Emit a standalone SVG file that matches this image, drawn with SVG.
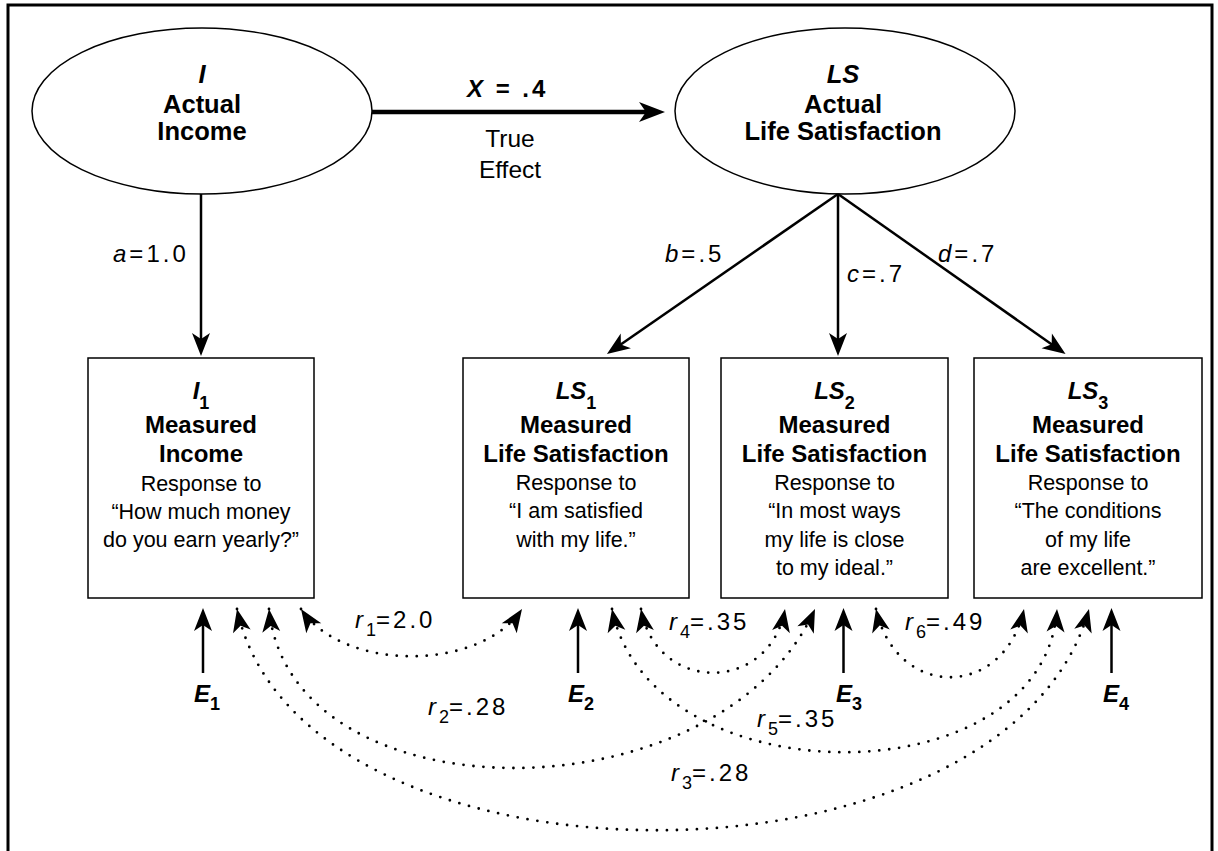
<svg xmlns="http://www.w3.org/2000/svg" width="1218" height="851" viewBox="0 0 1218 851">
  <style>
    .frame { fill: none; stroke: #000; stroke-width: 3; }
    .latent { fill: #fff; stroke: #000; stroke-width: 1.5; }
    .box { fill: #fff; stroke: #000; stroke-width: 1.5; }
    .path { fill: none; stroke: #000; stroke-width: 2.5; }
    .thick { fill: none; stroke: #000; stroke-width: 4.5; }
    .cov { fill: none; stroke: #000; stroke-width: 2.8; stroke-linecap: round; stroke-dasharray: 0 10; }
    text { font-family: "Liberation Sans", Arial, Helvetica, sans-serif; fill: #000; }
    .big { font-size: 25.5px; font-weight: bold; }
    .hd { font-size: 24px; font-weight: bold; }
    .tt { font-size: 24px; font-weight: bold; }
    .bd { font-size: 21.5px; }
    .lb { font-size: 24px; letter-spacing: 3px; }
    .lab { font-size: 24.5px; }
    .it { font-style: italic; }
    .sub { font-size: 18px; letter-spacing: 0; }
  </style>
  <defs>
    <marker id="head" viewBox="-26 -11 28 22" markerWidth="28" markerHeight="22" refX="-8" refY="0" orient="auto-start-reverse" markerUnits="userSpaceOnUse" overflow="visible">
      <path d="M0,0 L-23,-9 L-17,0 L-23,9 Z" fill="#000"/>
    </marker>
    <marker id="headBig" viewBox="-28 -12 30 24" markerWidth="30" markerHeight="24" refX="-10" refY="0" orient="auto" markerUnits="userSpaceOnUse" overflow="visible">
      <path d="M0,0 L-26,-10 L-19,0 L-26,10 Z" fill="#000"/>
    </marker>
    <marker id="dhead" viewBox="-26 -11 28 22" markerWidth="28" markerHeight="22" refX="0" refY="0" orient="auto-start-reverse" markerUnits="userSpaceOnUse" overflow="visible">
      <path d="M0,0 L-23,-9 L-17,0 L-23,9 Z" fill="#000"/>
    </marker>
  </defs>

  <rect class="frame" x="8" y="5" width="1204" height="900"/>

  <!-- latent variables -->
  <g id="income">
    <ellipse class="latent" cx="202" cy="111" rx="170" ry="83"/>
    <text class="big it" x="202" y="83" text-anchor="middle">I</text>
    <text class="big" x="202" y="113" text-anchor="middle">Actual</text>
    <text class="big" x="202" y="140" text-anchor="middle">Income</text>
  </g>
  <g id="life-satisfaction">
    <ellipse class="latent" cx="845" cy="111" rx="170" ry="83"/>
    <text class="big it" x="843" y="83" text-anchor="middle">LS</text>
    <text class="big" x="843" y="113" text-anchor="middle">Actual</text>
    <text class="big" x="843" y="140" text-anchor="middle">Life Satisfaction</text>
  </g>

  <!-- measured indicators -->
  <g id="I1">
    <rect class="box" x="88" y="358" width="226" height="240"/>
    <text class="hd" x="201" y="399" text-anchor="middle"><tspan class="it">I</tspan><tspan class="sub" dy="10">1</tspan></text>
    <text class="tt" x="201" y="433" text-anchor="middle">Measured</text>
    <text class="tt" x="201" y="462" text-anchor="middle">Income</text>
    <text class="bd" x="201" y="491" text-anchor="middle">Response to</text>
    <text class="bd" x="201" y="519" text-anchor="middle">“How much money</text>
    <text class="bd" x="201" y="547" text-anchor="middle">do you earn yearly?”</text>
  </g>
  <g id="LS1">
    <rect class="box" x="463" y="358" width="226" height="240"/>
    <text class="hd" x="576" y="399" text-anchor="middle"><tspan class="it">LS</tspan><tspan class="sub" dy="10">1</tspan></text>
    <text class="tt" x="576" y="433" text-anchor="middle">Measured</text>
    <text class="tt" x="576" y="462" text-anchor="middle">Life Satisfaction</text>
    <text class="bd" x="576" y="490" text-anchor="middle">Response to</text>
    <text class="bd" x="576" y="518" text-anchor="middle">“I am satisfied</text>
    <text class="bd" x="576" y="547" text-anchor="middle">with my life.”</text>
  </g>
  <g id="LS2">
    <rect class="box" x="721" y="358" width="227" height="240"/>
    <text class="hd" x="834.5" y="399" text-anchor="middle"><tspan class="it">LS</tspan><tspan class="sub" dy="10">2</tspan></text>
    <text class="tt" x="834.5" y="433" text-anchor="middle">Measured</text>
    <text class="tt" x="834.5" y="462" text-anchor="middle">Life Satisfaction</text>
    <text class="bd" x="834.5" y="490" text-anchor="middle">Response to</text>
    <text class="bd" x="834.5" y="518" text-anchor="middle">“In most ways</text>
    <text class="bd" x="834.5" y="547" text-anchor="middle">my life is close</text>
    <text class="bd" x="834.5" y="575" text-anchor="middle">to my ideal.”</text>
  </g>
  <g id="LS3">
    <rect class="box" x="974" y="358" width="228" height="240"/>
    <text class="hd" x="1088" y="399" text-anchor="middle"><tspan class="it">LS</tspan><tspan class="sub" dy="10">3</tspan></text>
    <text class="tt" x="1088" y="433" text-anchor="middle">Measured</text>
    <text class="tt" x="1088" y="462" text-anchor="middle">Life Satisfaction</text>
    <text class="bd" x="1088" y="490" text-anchor="middle">Response to</text>
    <text class="bd" x="1088" y="518" text-anchor="middle">“The conditions</text>
    <text class="bd" x="1088" y="547" text-anchor="middle">of my life</text>
    <text class="bd" x="1088" y="575" text-anchor="middle">are excellent.”</text>
  </g>

  <!-- error terms -->
  <g id="E1"><text class="tt" x="194" y="702" font-size="25"><tspan class="it">E</tspan><tspan class="sub" dy="8">1</tspan></text></g>
  <g id="E2"><text class="tt" x="568" y="702" font-size="25"><tspan class="it">E</tspan><tspan class="sub" dy="8">2</tspan></text></g>
  <g id="E3"><text class="tt" x="836" y="702" font-size="25"><tspan class="it">E</tspan><tspan class="sub" dy="8">3</tspan></text></g>
  <g id="E4"><text class="tt" x="1103" y="702" font-size="25"><tspan class="it">E</tspan><tspan class="sub" dy="8">4</tspan></text></g>

  <g id="connectors">
    <!-- structural path -->
    <line class="thick" x1="372" y1="112" x2="655" y2="112" marker-end="url(#headBig)"/>
    <!-- loadings -->
    <line class="path" x1="201" y1="194" x2="201" y2="348" marker-end="url(#head)"/>
    <line class="path" x1="838" y1="194" x2="613.5" y2="349.5" marker-end="url(#head)"/>
    <line class="path" x1="838" y1="194" x2="838" y2="348" marker-end="url(#head)"/>
    <line class="path" x1="838" y1="194" x2="1059" y2="349.5" marker-end="url(#head)"/>
    <!-- errors -->
    <line class="path" x1="203" y1="673" x2="203" y2="616" marker-end="url(#head)"/>
    <line class="path" x1="578" y1="673" x2="578" y2="616" marker-end="url(#head)"/>
    <line class="path" x1="843.5" y1="673" x2="843.5" y2="616" marker-end="url(#head)"/>
    <line class="path" x1="1111.5" y1="673" x2="1111.5" y2="616" marker-end="url(#head)"/>
    <!-- error covariances -->
    <path class="cov" d="M301,609 C343,672 480,672 522,609" marker-start="url(#dhead)" marker-end="url(#dhead)"/>
    <path class="cov" d="M269,609 C290,821 720,821 815,609" marker-start="url(#dhead)" marker-end="url(#dhead)"/>
    <path class="cov" d="M237,609 C300,904 1009,904 1089,609" marker-start="url(#dhead)" marker-end="url(#dhead)"/>
    <path class="cov" d="M641,609 C656,694 770,694 785,609" marker-start="url(#dhead)" marker-end="url(#dhead)"/>
    <path class="cov" d="M612,609 C650,800 1045,800 1057,609" marker-start="url(#dhead)" marker-end="url(#dhead)"/>
    <path class="cov" d="M876,609 C896,700 1004,700 1024,609" marker-start="url(#dhead)" marker-end="url(#dhead)"/>
  </g>

  <!-- path labels -->
  <g id="labels">
    <text class="lb" x="467" y="97" font-weight="bold"><tspan class="it">X</tspan> = .4</text>
    <text class="lab" x="510" y="147" text-anchor="middle">True</text>
    <text class="lab" x="510" y="178" text-anchor="middle">Effect</text>
    <text class="lb" x="113" y="262"><tspan class="it">a</tspan>=1.0</text>
    <text class="lb" x="665" y="262" letter-spacing="1"><tspan class="it">b</tspan>=.5</text>
    <text class="lb" x="847" y="282" letter-spacing="1"><tspan class="it">c</tspan>=.7</text>
    <text class="lb" x="938" y="262" letter-spacing="1"><tspan class="it">d</tspan>=.7</text>
    <text class="lb" x="355" y="628"><tspan class="it">r</tspan><tspan class="sub" dy="8">1</tspan><tspan dy="-8">=2.0</tspan></text>
    <text class="lb" x="428" y="715"><tspan class="it">r</tspan><tspan class="sub" dy="8">2</tspan><tspan dy="-8">=.28</tspan></text>
    <text class="lb" x="671" y="781"><tspan class="it">r</tspan><tspan class="sub" dy="8">3</tspan><tspan dy="-8">=.28</tspan></text>
    <text class="lb" x="669" y="630"><tspan class="it">r</tspan><tspan class="sub" dy="8">4</tspan><tspan dy="-8">=.35</tspan></text>
    <text class="lb" x="757" y="727"><tspan class="it">r</tspan><tspan class="sub" dy="8">5</tspan><tspan dy="-8">=.35</tspan></text>
    <text class="lb" x="905" y="630"><tspan class="it">r</tspan><tspan class="sub" dy="8">6</tspan><tspan dy="-8">=.49</tspan></text>
  </g>
</svg>
